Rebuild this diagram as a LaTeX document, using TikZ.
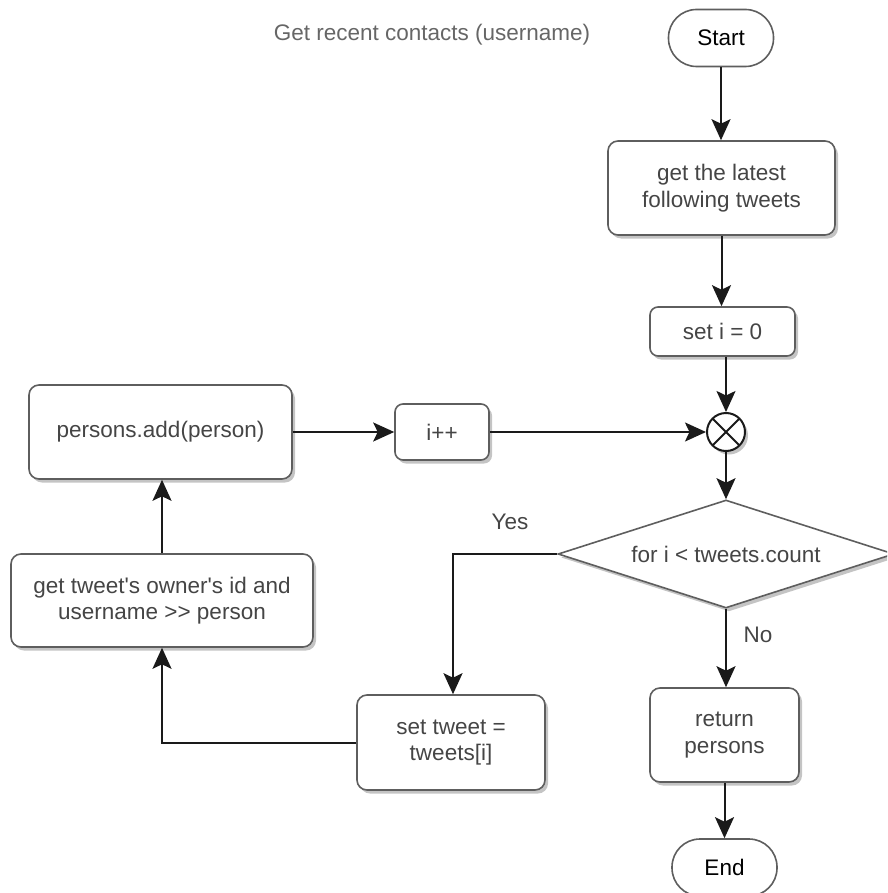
\documentclass[tikz,border=0pt]{standalone}
\usepackage{fontspec}
\setmainfont{Liberation Sans}
\usetikzlibrary{shapes.geometric,shadows,arrows.meta}
\definecolor{boxline}{HTML}{5E5E5E}
\definecolor{boxtext}{HTML}{454545}
\definecolor{titletext}{HTML}{666666}
\definecolor{edgeblack}{HTML}{1A1A1A}
\definecolor{shadowgray}{HTML}{C4C4C4}

\begin{document}
\begin{tikzpicture}[x=1pt,y=-1pt,
  font=\fontsize{22.5}{26.5}\selectfont,
  shade3/.style={drop shadow={shadow xshift=3pt,shadow yshift=-3.5pt,fill=shadowgray,opacity=1}},
  box/.style={draw=boxline,line width=1.6pt,fill=white,rounded corners=10pt,
    align=center,text=boxtext,inner sep=0pt,shade3},
  terminal/.style={draw=boxline,line width=1.6pt,fill=white,rounded corners=28pt,
    align=center,text=black,inner sep=0pt,minimum width=105pt,minimum height=57pt},
  decision/.style={diamond,aspect=3.1,draw=boxline,line width=1.6pt,fill=white,
    text=boxtext,inner sep=0pt,minimum width=336pt,minimum height=108pt,shade3},
  junction/.style={circle,draw=edgeblack,line width=2pt,fill=white,inner sep=0pt,
    minimum size=38pt,shade3,
    path picture={\draw[edgeblack,line width=2pt]
      (path picture bounding box.north west) -- (path picture bounding box.south east)
      (path picture bounding box.north east) -- (path picture bounding box.south west);}},
  arr/.style={draw=edgeblack,line width=2pt,
    -{Stealth[length=21pt,width=19pt,inset=4.5pt]}},
  lbl/.style={text=boxtext}
]
\useasboundingbox (0,0) rectangle (887,893);
\clip (0,0) rectangle (887,893);

% title
\node[text=titletext] (title) at (432,35) {Get recent contacts (username)};

% main column
\node[terminal] (start) at (721,38) {Start};
\node[box,minimum width=227pt,minimum height=94pt] (latest) at (721.5,188)
  {get the latest\\following tweets};
\node[box,minimum width=145pt,minimum height=49pt,rounded corners=8pt] (seti) at (722.5,331.5)
  {set i = 0};
\node[junction] (junc) at (726,432) {};
\node[decision] (cond) at (726,554) {for i {<} tweets.count};
\node[box,minimum width=149pt,minimum height=94pt] (ret) at (724.5,735)
  {return\\persons};
\node[terminal] (end) at (724.5,867.5) {End};

% loop body
\node[box,minimum width=94pt,minimum height=56pt,rounded corners=8pt] (inc) at (442,432) {i++};
\node[box,minimum width=263pt,minimum height=94pt] (add) at (160.5,432) {persons.add(person)};
\node[box,minimum width=302pt,minimum height=93pt] (owner) at (162,600.5)
  {get tweet\textquotesingle s owner\textquotesingle s id and\\username >{}> person};
\node[box,minimum width=188pt,minimum height=95pt] (tweet) at (451,742.5)
  {set tweet =\\tweets[i]};

% branch labels
\node[lbl] (yes) at (510,522) {Yes};
\node[lbl] (no) at (758,635) {No};

% connectors
\draw[arr] (start.south) -- (start.south |- latest.north);
\draw[arr] (latest.south) -- (latest.south |- seti.north);
\draw[arr] (seti.south -| junc.north) -- (junc.north);
\draw[arr] (add.east) -- (inc.west);
\draw[arr] (inc.east) -- (junc.west);
\draw[arr] (junc.south) -- (cond.north);
\draw[arr] (cond.west) -| ([xshift=2pt]tweet.north);
\draw[arr] (cond.south) -- (cond.south |- ret.north);
\draw[arr] (ret.south -| end.north) -- (end.north);
\draw[arr] (tweet.west) -| (owner.south);
\draw[arr] (owner.north) -- (owner.north |- add.south);
\end{tikzpicture}
\end{document}
